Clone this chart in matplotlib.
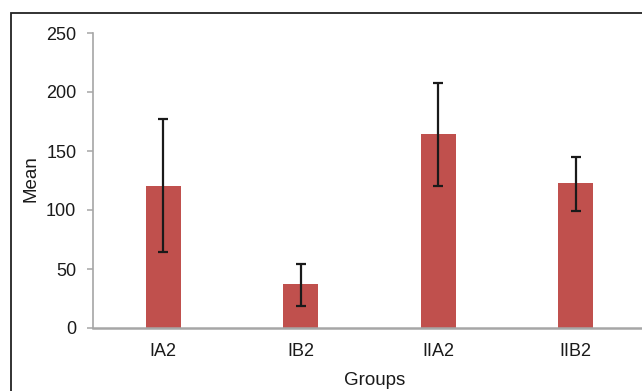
import matplotlib
matplotlib.use("Agg")
import matplotlib.pyplot as plt
from matplotlib.patches import Rectangle

groups = ["IA2", "IB2", "IIA2", "IIB2"]
means = [120, 37, 164, 123]
err_low = [64, 19, 120, 99]
err_high = [177, 54, 208, 145]

plt.rcParams['font.family'] = ['Liberation Sans', 'DejaVu Sans']

W, H = 642, 391
fig = plt.figure(figsize=(W / 100, H / 100), dpi=100)
fig.patch.set_facecolor('white')

# outer frame (extends beyond right/bottom edges)
fig.patches.append(Rectangle((11.5 / W, -0.1), 1.2, 1 - 12.5 / H + 0.1,
                             transform=fig.transFigure, fill=False,
                             edgecolor='#222222', linewidth=1.3))

AX_L, AX_R, AX_T, AX_B = 93, 646, 33, 328
ax = fig.add_axes([AX_L / W, 1 - AX_B / H, (AX_R - AX_L) / W, (AX_B - AX_T) / H])
x = list(range(len(groups)))
yerr = [[m - lo for m, lo in zip(means, err_low)],
        [hi - m for m, hi in zip(means, err_high)]]
ax.bar(x, means, width=0.255, color='#C0504D', zorder=2)
ax.errorbar(x, means, yerr=yerr, fmt='none', ecolor='#1a1a1a',
            elinewidth=1.6, capsize=3.3, capthick=1.6, zorder=3)

ax.set_xlim(-0.51, 3.51)
ax.set_ylim(0, 250)
ax.set_yticks([0, 50, 100, 150, 200, 250])
ax.set_xticks(x)
ax.set_xticklabels(groups)

for s in ['top', 'right']:
    ax.spines[s].set_visible(False)
ax.spines['left'].set_color('#a6a6a6')
ax.spines['left'].set_linewidth(1.2)
ax.spines['bottom'].set_color('#a6a6a6')
ax.spines['bottom'].set_linewidth(1.8)

ax.tick_params(axis='y', direction='out', length=4, width=1.1, color='#a6a6a6',
               labelsize=13, labelcolor='#1a1a1a', pad=8)
ax.tick_params(axis='x', length=0, labelsize=13, labelcolor='#1a1a1a', pad=11)

ax.set_ylabel('Mean', fontsize=13.5, color='#1a1a1a')
ax.set_xlabel('Groups', fontsize=13.5, color='#1a1a1a')
ax.xaxis.set_label_coords((375 - AX_L) / (AX_R - AX_L), -(372 - AX_B) / (AX_B - AX_T))
ax.yaxis.set_label_coords(-(AX_L - 40) / (AX_R - AX_L), (AX_B - 179) / (AX_B - AX_T))

fig.savefig('out.png', dpi=100)
